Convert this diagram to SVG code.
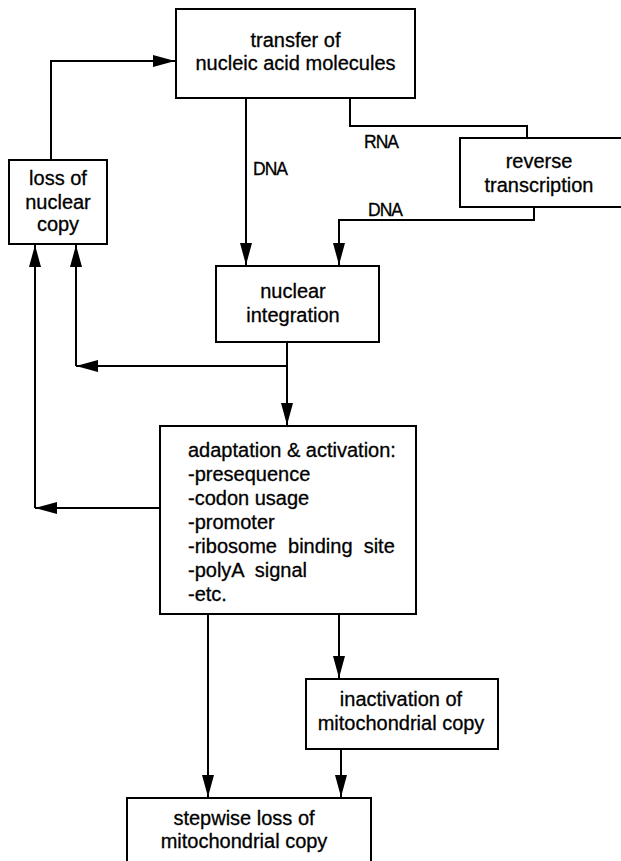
<svg xmlns="http://www.w3.org/2000/svg" width="621" height="861" viewBox="0 0 621 861">
<style>
.box{fill:#fff;stroke:#000;stroke-width:2}
.ln{fill:none;stroke:#000;stroke-width:2}
.ar{marker-end:url(#ah)}
text{font-family:"Liberation Sans",Arial,sans-serif;font-size:20px;fill:#000;stroke:#000;stroke-width:0.3}
.c{text-anchor:middle}
.lab{font-size:17.5px;letter-spacing:-1px}
</style>
<defs>
<marker id="ah" markerUnits="userSpaceOnUse" markerWidth="22" markerHeight="12" refX="22" refY="6" orient="auto">
<path d="M0,0 L22,6 L0,12 z" fill="#000"/>
</marker>
</defs>
<rect width="621" height="861" fill="#fff"/>
<g id="connectors">
<path class="ln ar" d="M51,160 V61 H175"/>
<path class="ln ar" d="M246,98 V265"/>
<path class="ln" d="M350,98 V126 H527 V139"/>
<path class="ln ar" d="M534,207 V220 H339 V265"/>
<path class="ln ar" d="M287,342 V425"/>
<path class="ln ar" d="M287,366 H76"/>
<path class="ln ar" d="M76,366 V245"/>
<path class="ln ar" d="M160,508 H35"/>
<path class="ln ar" d="M35,508 V245"/>
<path class="ln ar" d="M208,614 V797"/>
<path class="ln ar" d="M339,614 V678"/>
<path class="ln ar" d="M341,749 V797"/>
<text class="lab" x="253" y="175">DNA</text>
<text class="lab" x="364" y="148">RNA</text>
<text class="lab" x="368" y="216">DNA</text>
</g>
<g id="transfer">
<rect class="box" x="176" y="9" width="239" height="89"/>
<text class="c" x="295.5" y="47">transfer of</text>
<text class="c" x="295.5" y="70">nucleic acid molecules</text>
</g>
<g id="loss">
<rect class="box" x="9" y="160" width="98" height="84"/>
<text class="c" x="58" y="185">loss of</text>
<text class="c" x="58" y="209">nuclear</text>
<text class="c" x="58" y="231">copy</text>
</g>
<g id="reverse">
<rect class="box" x="460" y="138" width="170" height="69"/>
<text class="c" x="539" y="168">reverse</text>
<text class="c" x="539" y="192">transcription</text>
</g>
<g id="integration">
<rect class="box" x="216" y="266" width="163" height="76"/>
<text class="c" x="293" y="298">nuclear</text>
<text class="c" x="293" y="322">integration</text>
</g>
<g id="adaptation">
<rect class="box" x="160" y="426" width="256" height="188"/>
<text x="188" y="457">adaptation &amp; activation:</text>
<text x="188" y="481">-presequence</text>
<text x="188" y="505">-codon usage</text>
<text x="188" y="529">-promoter</text>
<text x="188" y="553" xml:space="preserve">-ribosome  binding  site</text>
<text x="188" y="577" xml:space="preserve">-polyA  signal</text>
<text x="188" y="601">-etc.</text>
</g>
<g id="inactivation">
<rect class="box" x="306" y="679" width="192" height="70"/>
<text class="c" x="401" y="706">inactivation of</text>
<text class="c" x="401" y="730">mitochondrial copy</text>
</g>
<g id="stepwise">
<rect class="box" x="127" y="798" width="244" height="80"/>
<text class="c" x="244" y="825">stepwise loss of</text>
<text class="c" x="244" y="848">mitochondrial copy</text>
</g>
</svg>
